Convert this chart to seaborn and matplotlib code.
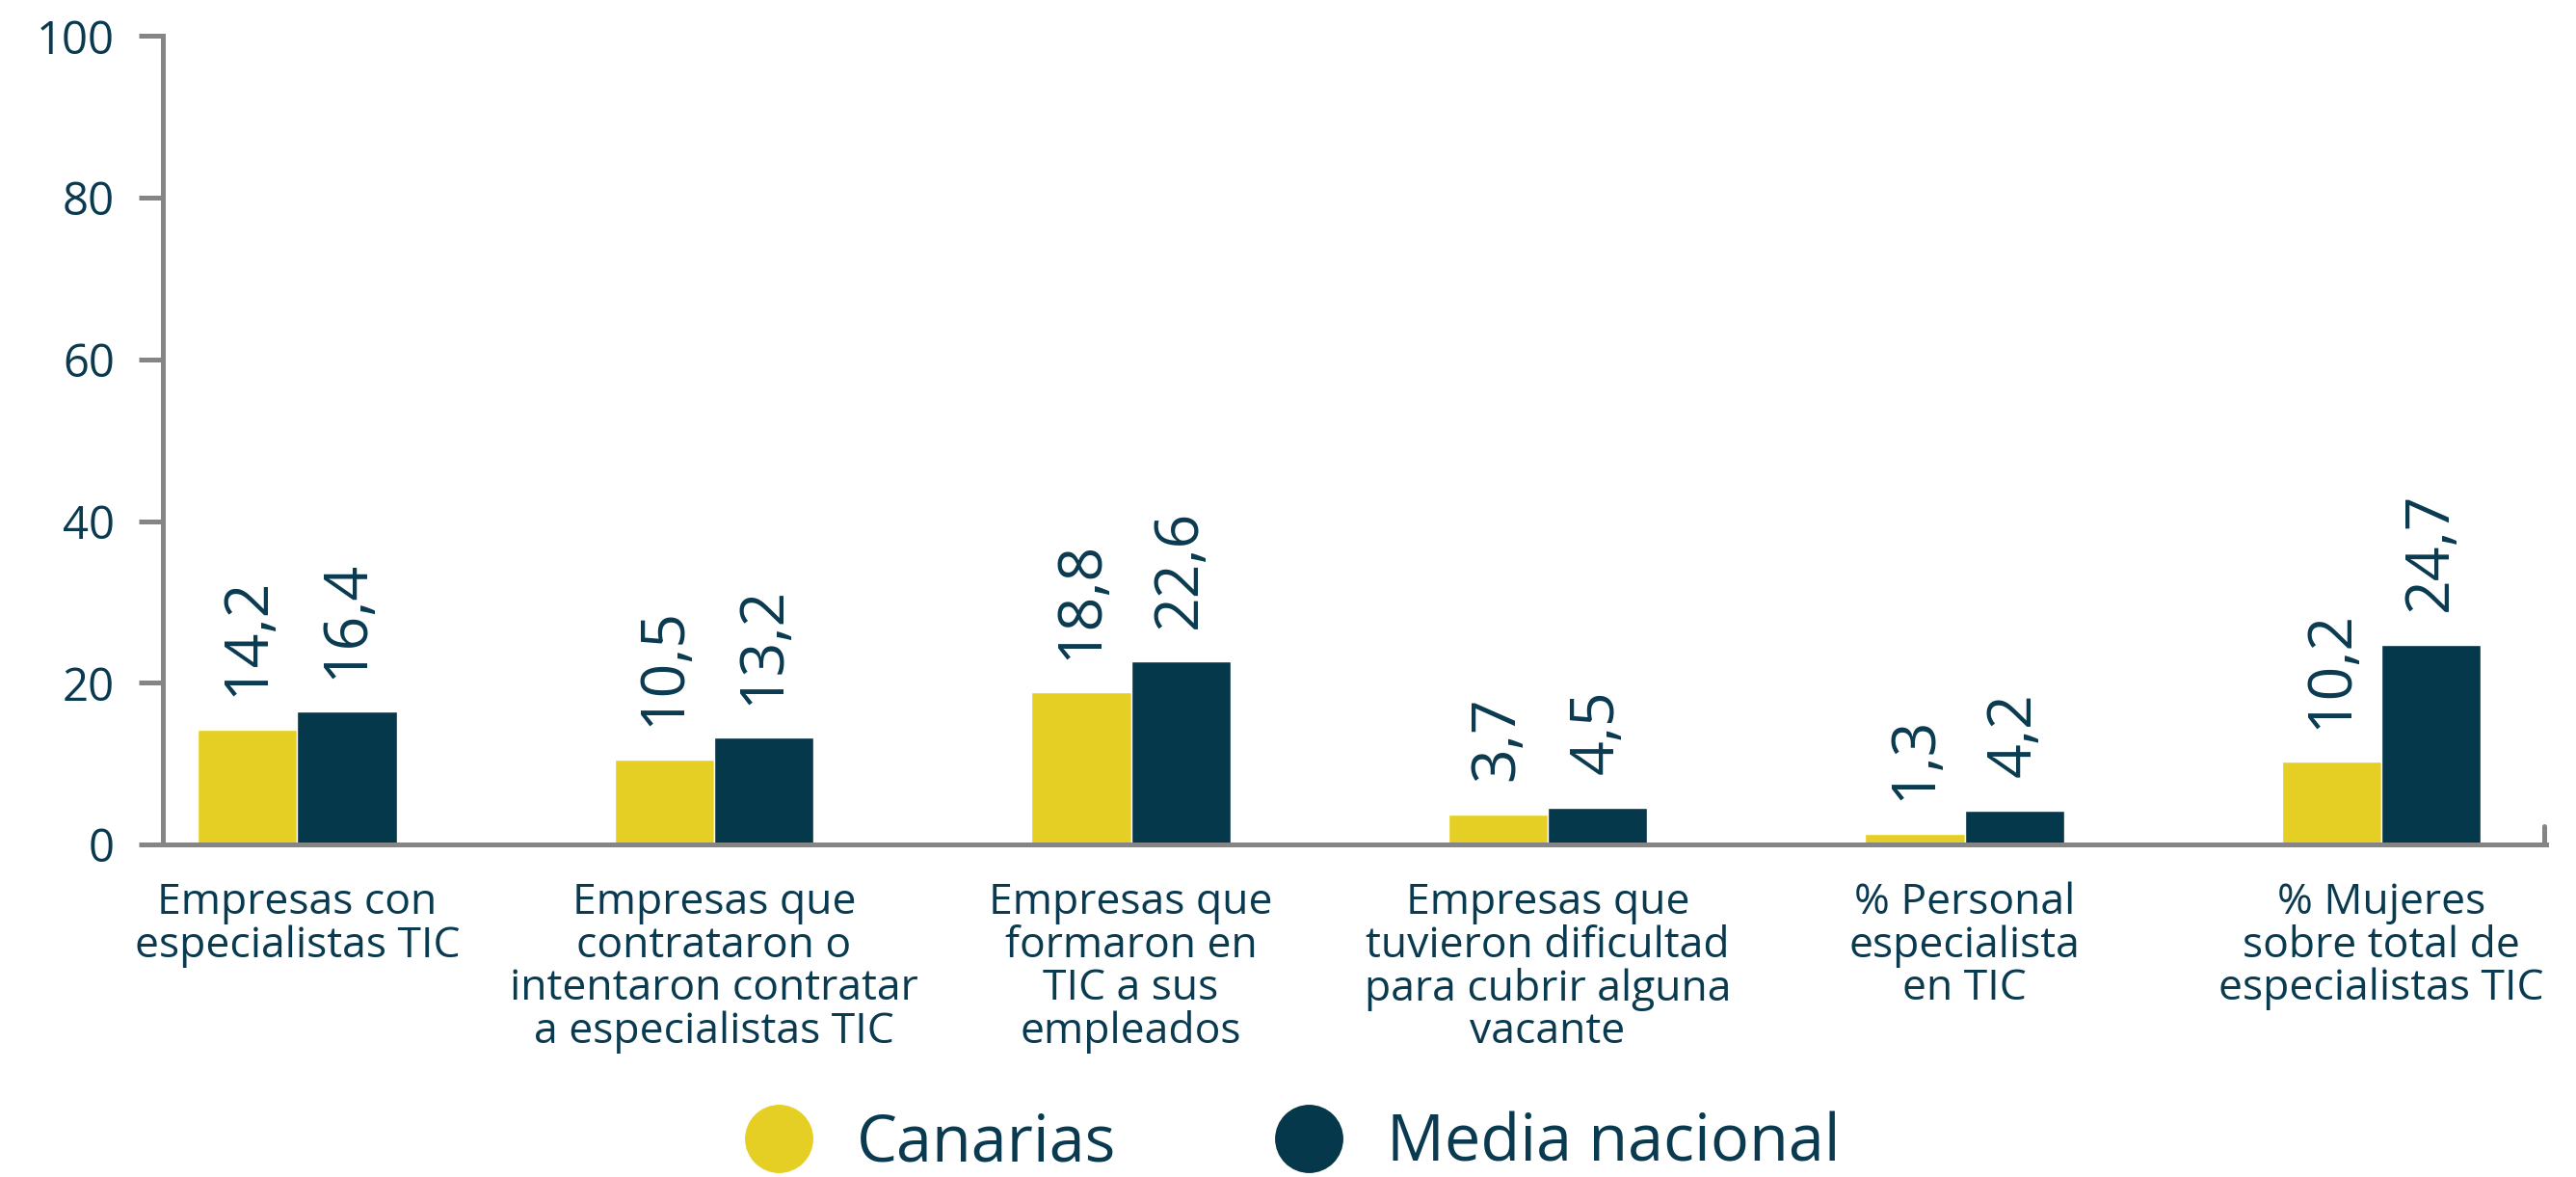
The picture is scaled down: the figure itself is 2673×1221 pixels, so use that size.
import pandas as pd
import seaborn as sns
import matplotlib.pyplot as plt
from matplotlib.lines import Line2D

categorias = [
    "Empresas con\nespecialistas TIC",
    "Empresas que\ncontrataron o\nintentaron contratar\na especialistas TIC",
    "Empresas que\nformaron en\nTIC a sus\nempleados",
    "Empresas que\ntuvieron dificultad\npara cubrir alguna\nvacante",
    "% Personal\nespecialista\nen TIC",
    "% Mujeres\nsobre total de\nespecialistas TIC",
]
canarias = [14.2, 10.5, 18.8, 3.7, 1.3, 10.2]
media_nacional = [16.4, 13.2, 22.6, 4.5, 4.2, 24.7]
series = ["Canarias", "Media nacional"]
y_ticks = [0, 20, 40, 60, 80, 100]

AMARILLO = "#E6CF24"
AZUL = "#06384C"
TEXTO = "#0A3A50"
GRIS = "#858585"

df = pd.DataFrame({
    "categoria": categorias * 2,
    "valor": canarias + media_nacional,
    "serie": [series[0]] * len(categorias) + [series[1]] * len(categorias),
})

sns.set_style("white")
plt.rcParams["font.family"] = ["Open Sans", "DejaVu Sans"]

fig = plt.figure(figsize=(26.73, 12.21), dpi=100)
ax = fig.add_axes([0.0632, 0.2826, 0.9252, 0.9693 - 0.2826])

sns.barplot(data=df, x="categoria", y="valor", hue="serie", hue_order=series,
            palette=[AMARILLO, AZUL], width=0.477, dodge=True, saturation=1,
            legend=False, ax=ax)

for cont in ax.containers:
    etiquetas = [f"{b.get_height():.1f}".replace(".", ",") for b in cont]
    ax.bar_label(cont, labels=etiquetas, rotation=90, padding=25,
                 fontsize=45, color=TEXTO)

ax.set_ylim(0, 100)
ax.set_xlim(-0.3225, 5.395)
ax.set_yticks(y_ticks)
ax.set_xlabel("")
ax.set_ylabel("")

for s in ["top", "right"]:
    ax.spines[s].set_visible(False)
for s in ["left", "bottom"]:
    ax.spines[s].set_color(GRIS)
    ax.spines[s].set_linewidth(3.6)

ax.tick_params(axis="y", length=18, width=3.6, color=GRIS, pad=18,
               labelsize=34, labelcolor=TEXTO, left=True)
ax.tick_params(axis="x", length=0, pad=28, labelsize=32, labelcolor=TEXTO)
for lbl in ax.get_xticklabels():
    lbl.set_multialignment("center")
    lbl.set_linespacing(1.0)

# pequeña marca al final del eje x
ax.axvline(5.39, ymin=0, ymax=0.022, color=GRIS, linewidth=3.6, clip_on=False)

handles = [Line2D([], [], linestyle="none", marker="o", markersize=50,
                  markerfacecolor=c, markeredgecolor=c) for c in [AMARILLO, AZUL]]
fig.legend(handles, series, loc="center", bbox_to_anchor=(0.502, 0.028), ncol=2,
           frameon=False, fontsize=48, labelcolor=TEXTO, handlelength=1.0,
           handletextpad=0.71, columnspacing=2.5, borderaxespad=0)

fig.savefig("out.png", dpi=100)
